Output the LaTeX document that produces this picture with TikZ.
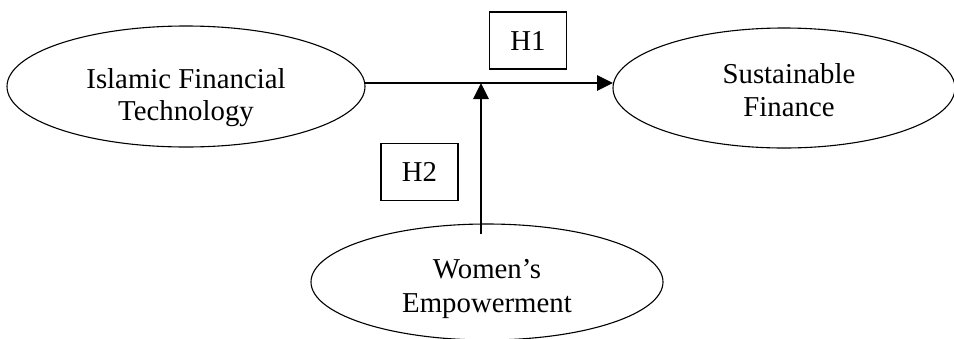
\documentclass[tikz,border=0pt]{standalone}
\usepackage{fontspec}
\setmainfont{Liberation Serif}
\usetikzlibrary{shapes.geometric,arrows.meta}
\begin{document}
\begin{tikzpicture}[x=1pt,y=-1pt,
  oval/.style={draw, ellipse, line width=1.1pt, inner sep=0pt, outer sep=0pt},
  lbl/.style={anchor=base, inner sep=0pt, font=\fontsize{28.8}{33}\selectfont},
  hbox/.style={draw, rectangle, line width=1.1pt, inner sep=0pt, minimum width=77pt, minimum height=57pt, font=\fontsize{28.8}{33}\selectfont},
  conn/.style={line width=2.7pt, -{Triangle[length=16pt,width=15pt]}}]
\useasboundingbox (0,0) rectangle (954,338);
\clip (0,0) rectangle (954,338);
% ellipses
\node[oval, minimum width=358pt, minimum height=121pt] (L) at (186,86.5) {};
\node[oval, minimum width=342pt, minimum height=120pt] (R) at (784,88) {};
\node[oval, minimum width=352pt, minimum height=116pt] (W) at (487,282) {};
% labels
\node[lbl] (L1) at (186,88) {Islamic Financial};
\node[lbl] (L2) at (186,120) {Technology};
\node[lbl] (R1) at (789,83) {Sustainable};
\node[lbl] (R2) at (789,116) {Finance};
\node[lbl] (W1) at (487,278) {Women’s};
\node[lbl] (W2) at (487,312) {Empowerment};
% hypothesis boxes
\node[hbox] (H1) at (528,40.5) {H1};
\node[hbox] (H2) at (419.5,172) {H2};
% connectors
\coordinate (J) at (481,83);
\coordinate (Ws) at (481,234);
\draw[conn] (L.east |- J) -- (R.west |- J);
\draw[conn] (Ws) -- (J);
\end{tikzpicture}
\end{document}
